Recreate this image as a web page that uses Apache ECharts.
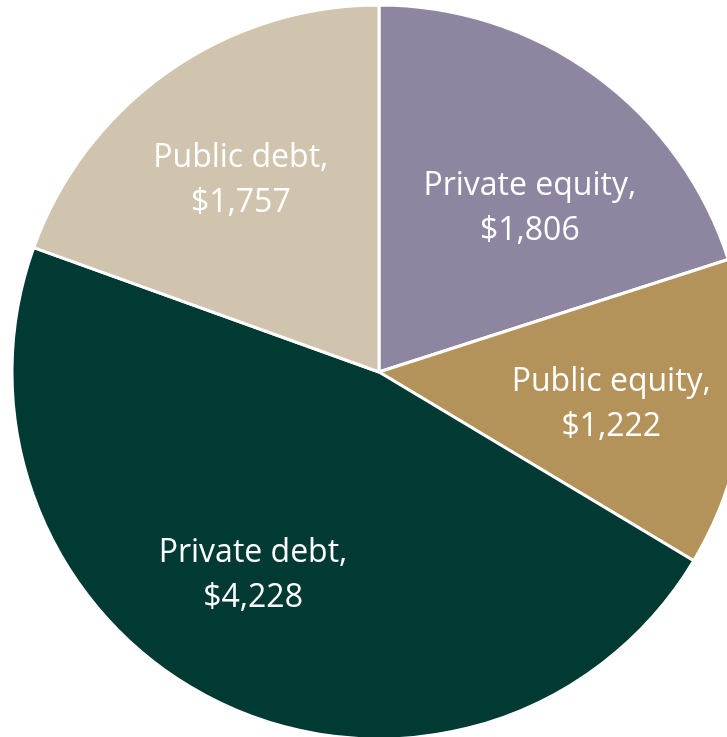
<!DOCTYPE html>
<html>
<head>
<meta charset="utf-8">
<script src="https://cdn.jsdelivr.net/npm/echarts@6/dist/echarts.min.js"></script>
<style>
  html, body { margin: 0; padding: 0; background: #fff; }
  #chart { width: 727px; height: 737px; }
</style>
</head>
<body>
<div id="chart"></div>
<script>
// Outstanding amounts by asset class
const categories = ['Private equity', 'Public equity', 'Private debt', 'Public debt'];
const values = [1806, 1222, 4228, 1757];
const colors = ['#8E86A0', '#B3935A', '#003A33', '#D0C4AE'];
// nudges for the in-slice labels
const labelOffsets = [[41, -13], [47, 11], [-46, 35], [-31, -39]];

const fmt = v => '$' + v.toLocaleString('en-US');

const chart = echarts.init(document.getElementById('chart'));
chart.setOption({
  animation: false,
  series: [{
    type: 'pie',
    center: [379, 372],
    radius: [0, 367],
    startAngle: 90,
    clockwise: true,
    avoidLabelOverlap: false,
    itemStyle: { borderColor: '#ffffff', borderWidth: 3 },
    label: {
      show: true,
      position: 'inside',
      color: '#ffffff',
      fontFamily: 'Open Sans',
      fontSize: 32,
      lineHeight: 45,
      align: 'center',
      formatter: p => p.name + ',\n' + fmt(p.value)
    },
    labelLine: { show: false },
    emphasis: { disabled: true },
    data: categories.map((name, i) => ({
      name,
      value: values[i],
      itemStyle: { color: colors[i] },
      label: { offset: labelOffsets[i] }
    }))
  }]
});
</script>
</body>
</html>
